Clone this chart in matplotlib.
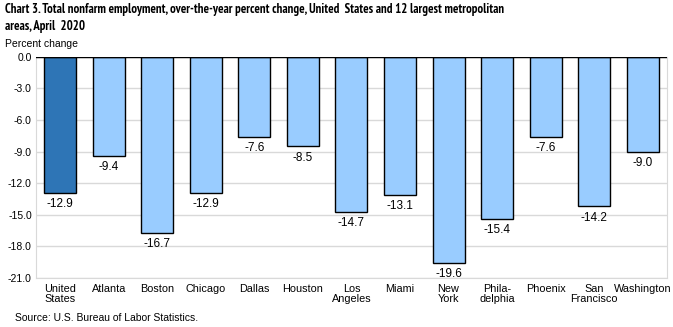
import numpy as np
import matplotlib
matplotlib.use("Agg")
import matplotlib.pyplot as plt

areas = ["United\nStates", "Atlanta", "Boston", "Chicago", "Dallas", "Houston",
         "Los\nAngeles", "Miami", "New\nYork", "Phila-\ndelphia", "Phoenix",
         "San\nFrancisco", "Washington"]
pct_change = [-12.9, -9.4, -16.7, -12.9, -7.6, -8.5, -14.7, -13.1, -19.6,
              -15.4, -7.6, -14.2, -9.0]
yticks = [0, -3, -6, -9, -12, -15, -18, -21]

plt.rcParams["font.family"] = ["Liberation Sans", "DejaVu Sans"]

fig = plt.figure(figsize=(6.73, 3.27), dpi=100)
ax = fig.add_axes([0.0535, 0.150, 0.9375, 0.676])

x = np.arange(len(areas))
colors = ["#2E75B6"] + ["#99CCFF"] * (len(areas) - 1)
ax.bar(x, pct_change, width=0.66, color=colors, edgecolor="black",
       linewidth=1.0, zorder=3)

for xi, v in zip(x, pct_change):
    ax.text(xi, v - 0.5, f"{v:.1f}", ha="center", va="top", fontsize=8.5,
            zorder=4)

ax.set_xlim(-0.5, len(areas) - 0.5)
ax.set_ylim(-21, 0)
ax.set_yticks(yticks)
ax.set_yticklabels([f"{t:.1f}" for t in yticks], fontsize=7.5)
ax.set_xticks(x)
ax.set_xticklabels(areas, fontsize=7.8, linespacing=1.0)
ax.tick_params(axis="both", length=0, pad=3)
ax.tick_params(axis="x", pad=4)
ax.yaxis.grid(True, color="#D9D9D9", linewidth=1.0, zorder=0)
ax.set_axisbelow(True)

for side in ["left", "right", "bottom"]:
    ax.spines[side].set_color("#D9D9D9")
ax.spines["top"].set_visible(False)
ax.axhline(0, color="black", linewidth=1.0, zorder=5)

# BLS titles use Arial Narrow; PT Sans Narrow is close enough
fig.text(0.008, 0.992,
         "Chart 3. Total nonfarm employment, over-the-year percent change, "
         "United  States and 12 largest metropolitan\nareas, April  2020",
         ha="left", va="top", fontsize=9.2, fontweight="bold",
         family=["PT Sans Narrow", "Roboto Condensed", "Liberation Sans"],
         linespacing=1.4)
fig.text(0.008, 0.865, "Percent change", ha="left", va="center", fontsize=7.5)
fig.text(0.022, 0.012, "Source: U.S. Bureau of Labor Statistics.",
         ha="left", va="bottom", fontsize=7.5)

fig.savefig("out.png", dpi=100)
